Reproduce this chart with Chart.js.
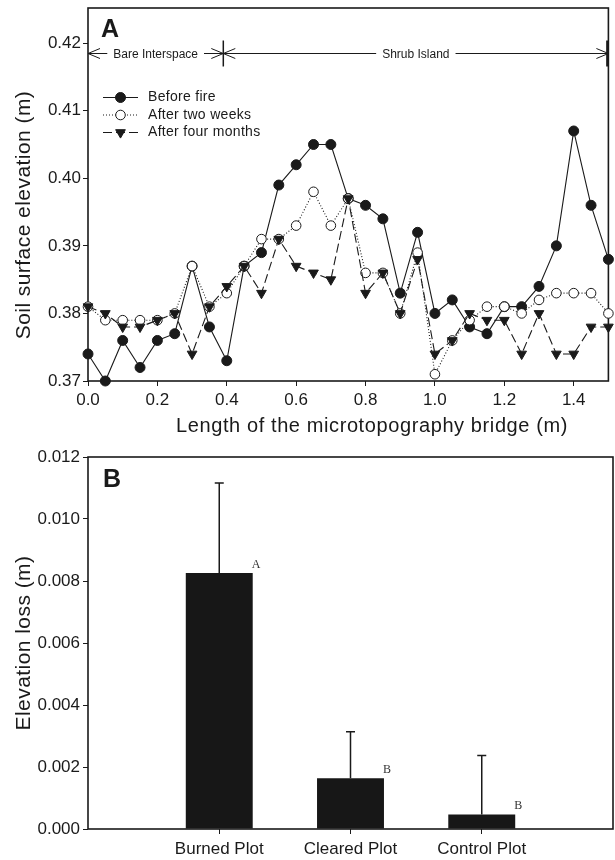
<!DOCTYPE html>
<html>
<head>
<meta charset="utf-8">
<title>Soil surface elevation / elevation loss</title>
<script src="https://cdn.jsdelivr.net/npm/chart.js@4.4.1/dist/chart.umd.min.js"></script>
<style>
  html,body{margin:0;padding:0;background:#fff;}
  #wrap{position:relative;width:615px;height:860px;}
  canvas{position:absolute;left:0;}
  #chartA{top:0;}
  #chartB{top:440px;}
</style>
</head>
<body>
<div id="wrap">
  <canvas id="chartA" width="615" height="440"></canvas>
  <canvas id="chartB" width="615" height="420"></canvas>
</div>
<script>
// ---- panel A data: elevation along the microtopography bridge ----
const positions = [0.00,0.05,0.10,0.15,0.20,0.25,0.30,0.35,0.40,0.45,0.50,0.55,0.60,0.65,0.70,0.75,
                   0.80,0.85,0.90,0.95,1.00,1.05,1.10,1.15,1.20,1.25,1.30,1.35,1.40,1.45,1.50];
const beforeFire = [0.374,0.370,0.376,0.372,0.376,0.377,0.387,0.378,0.373,0.387,0.389,0.399,0.402,0.405,0.405,0.397,
                    0.396,0.394,0.383,0.392,0.380,0.382,0.378,0.377,0.381,0.381,0.384,0.390,0.407,0.396,0.388];
const afterTwoWeeks = [0.381,0.379,0.379,0.379,0.379,0.380,0.387,0.381,0.383,0.387,0.391,0.391,0.393,0.398,0.393,0.397,
                       0.386,0.386,0.380,0.389,0.371,0.376,0.379,0.381,0.381,0.380,0.382,0.383,0.383,0.383,0.380];
const afterFourMonths = [0.381,0.380,0.378,0.378,0.379,0.380,0.374,0.381,0.384,0.387,0.383,0.391,0.387,0.386,0.385,0.397,
                         0.383,0.386,0.380,0.388,0.374,0.376,0.380,0.379,0.379,0.374,0.380,0.374,0.374,0.378,0.378];
const elevTicks = [0.37,0.38,0.39,0.40,0.41,0.42];
const lengthTicks = [0.0,0.2,0.4,0.6,0.8,1.0,1.2,1.4];

// zone markers drawn above the profile
const zoneLevel = 0.4186;
const zones = [
  {label:'Bare Interspace', from:0, to:0.39},
  {label:'Shrub Island', from:0.39, to:1.5}
];

// ---- panel B data: elevation loss per plot (empty slots at both ends) ----
const plotNames = ['', 'Burned Plot', 'Cleared Plot', 'Control Plot', ''];
const elevationLoss = [null, 0.00826, 0.00164, 0.00047, null];
const lossError = [null, 0.00290, 0.00150, 0.00190, null];
const groupLetters = ['', 'A', 'B', 'B', ''];
const lossTicks = [0.000,0.002,0.004,0.006,0.008,0.010,0.012];

const INK = '#1a1a1a';
const FONT = "'Liberation Sans', Arial, sans-serif";
Chart.defaults.font.family = FONT;
Chart.defaults.color = INK;

// fixes the scale thickness so the plot area lands where the figure has it
function fixAxis(size){
  return function(scale){
    if(scale.isHorizontal()) scale.height = size; else scale.width = size;
    scale.paddingTop = 0; scale.paddingBottom = 0; scale.paddingLeft = 0; scale.paddingRight = 0;
  };
}
function useTicks(list){
  return function(scale){ scale.ticks = list.map(v=>({value:v})); };
}

/* ========== shared plugins ========== */
const framePlugin = {
  id:'frame',
  beforeDatasetsDraw(chart){
    const {ctx, chartArea:a} = chart;
    ctx.save();
    ctx.strokeStyle = INK; ctx.lineWidth = 1.6;
    ctx.strokeRect(a.left, a.top, a.right-a.left, a.bottom-a.top);
    ctx.restore();
  }
};
function panelLabel(text, x, y){
  return {
    id:'panel'+text,
    afterDraw(chart){
      const ctx = chart.ctx;
      ctx.save();
      ctx.font = 'bold 25px ' + FONT; ctx.fillStyle = INK;
      ctx.textAlign = 'left'; ctx.textBaseline = 'alphabetic';
      ctx.fillText(text, x, y);
      ctx.restore();
    }
  };
}
// axis titles of the original sit a little off the plot centre, with loose letter spacing
function axisTitle(id, text, x, y, size, spacing, vertical){
  return {
    id:id,
    afterDraw(chart){
      const ctx = chart.ctx;
      ctx.save();
      ctx.font = size + 'px ' + FONT; ctx.fillStyle = INK;
      ctx.textAlign = 'center'; ctx.textBaseline = 'middle';
      ctx.letterSpacing = spacing + 'px';
      ctx.translate(x, y);
      if(vertical) ctx.rotate(-Math.PI/2);
      ctx.fillText(text, 0, 0);
      ctx.restore();
    }
  };
}

/* ========== panel A plugins ========== */
const zonePlugin = {
  id:'zones',
  afterDatasetsDraw(chart){
    const {ctx, scales:{x, y}} = chart;
    const yy = Math.round(y.getPixelForValue(zoneLevel)) + 0.5;
    ctx.save();
    ctx.strokeStyle = INK; ctx.fillStyle = INK; ctx.lineWidth = 1;
    ctx.font = '12px ' + FONT; ctx.textAlign = 'center'; ctx.textBaseline = 'middle';
    zones.forEach(z=>{
      const x0 = x.getPixelForValue(z.from), x1 = x.getPixelForValue(z.to), xm = (x0+x1)/2;
      const half = ctx.measureText(z.label).width/2 + 6;
      ctx.beginPath();
      ctx.moveTo(x0, yy); ctx.lineTo(xm-half, yy);
      ctx.moveTo(xm+half, yy); ctx.lineTo(x1, yy);
      ctx.moveTo(x0+12, yy-5); ctx.lineTo(x0, yy); ctx.lineTo(x0+12, yy+5);
      ctx.moveTo(x1-12, yy-5); ctx.lineTo(x1, yy); ctx.lineTo(x1-12, yy+5);
      ctx.stroke();
      ctx.fillText(z.label, xm, yy+1);
    });
    // boundary bars
    const bounds = [zones[0].to, zones[1].to];
    bounds.forEach((b,i)=>{
      const bx = x.getPixelForValue(b) - (i ? 1 : 0);
      ctx.lineWidth = i ? 2.5 : 1.5;
      ctx.beginPath(); ctx.moveTo(bx, yy-13); ctx.lineTo(bx, yy+13); ctx.stroke();
    });
    ctx.restore();
  }
};

const legendPlugin = {
  id:'profileLegend',
  afterDatasetsDraw(chart){
    const ctx = chart.ctx;
    const rows = [97, 114.5, 132];
    ctx.save();
    ctx.font = '14px ' + FONT; ctx.textAlign = 'left'; ctx.textBaseline = 'middle';
    ctx.letterSpacing = '0.3px';
    chart.data.datasets.forEach((ds,i)=>{
      const yy = rows[i] + 0.5;
      ctx.strokeStyle = INK; ctx.lineWidth = ds.borderWidth;
      ctx.setLineDash(ds.borderDash || []);
      ctx.beginPath(); ctx.moveTo(103, yy); ctx.lineTo(138, yy); ctx.stroke();
      ctx.setLineDash([]);
      ctx.fillStyle = ds.pointBackgroundColor; ctx.strokeStyle = ds.pointBorderColor; ctx.lineWidth = 1;
      Chart.helpers.drawPoint(ctx, {pointStyle: ds.pointStyle, rotation: ds.pointRotation || 0,
        radius: ds.pointRadius, borderWidth: 1}, 120.5, yy);
      ctx.fillStyle = INK;
      ctx.fillText(ds.label, 148, yy);
    });
    ctx.restore();
  }
};

function pts(series){ return positions.map((p,i)=>({x:p, y:series[i]})); }

new Chart(document.getElementById('chartA'), {
  type:'scatter',
  data:{
    datasets:[
      {label:'Before fire', data:pts(beforeFire), showLine:true, borderColor:INK, borderWidth:1.1,
       pointStyle:'circle', pointRadius:5, pointBackgroundColor:INK, pointBorderColor:INK, pointBorderWidth:1,
       order:3, clip:false},
      {label:'After two weeks', data:pts(afterTwoWeeks), showLine:true, borderColor:INK, borderWidth:1.1, borderDash:[1,2],
       pointStyle:'circle', pointRadius:4.8, pointBackgroundColor:'#fff', pointBorderColor:INK, pointBorderWidth:1,
       order:2, clip:false},
      {label:'After four months', data:pts(afterFourMonths), showLine:true, borderColor:INK, borderWidth:1.1, borderDash:[9,4],
       pointStyle:'triangle', pointRotation:180, pointRadius:5.6, pointBackgroundColor:INK, pointBorderColor:INK, pointBorderWidth:1,
       order:1, clip:false}
    ]
  },
  options:{
    responsive:false, animation:false, devicePixelRatio:1,
    layout:{padding:{top:8, right:2, left:0, bottom:0}},
    plugins:{legend:{display:false}, tooltip:{enabled:false}},
    scales:{
      x:{type:'linear', min:0, max:1.5,
         afterBuildTicks:useTicks(lengthTicks), afterFit:fixAxis(59),
         grid:{drawOnChartArea:false, tickLength:5, color:INK},
         border:{display:false},
         ticks:{padding:4, font:{size:17}, color:INK, callback:v=>Number(v).toFixed(1)},
         title:{display:false}},
      y:{type:'linear', min:0.37, max:0.4252,
         afterBuildTicks:useTicks(elevTicks), afterFit:fixAxis(88),
         grid:{drawOnChartArea:false, tickLength:5, color:INK},
         border:{display:false},
         ticks:{padding:2, font:{size:17}, color:INK, callback:v=>Number(v).toFixed(2)},
         title:{display:false}}
    }
  },
  plugins:[framePlugin, zonePlugin, legendPlugin, panelLabel('A', 101, 37),
           axisTitle('xTitleA', 'Length of the microtopography bridge (m)', 372, 426, 20, 0.6, false),
           axisTitle('yTitleA', 'Soil surface elevation (m)', 24, 215, 21, 0.45, true)]
});

/* ========== panel B ========== */
const errorPlugin = {
  id:'errorBars',
  afterDatasetsDraw(chart){
    const {ctx, scales:{y}} = chart;
    const meta = chart.getDatasetMeta(0);
    ctx.save();
    ctx.strokeStyle = INK; ctx.lineWidth = 1.5;
    elevationLoss.forEach((v,i)=>{
      if(v===null) return;
      const bar = meta.data[i];
      const top = y.getPixelForValue(v + lossError[i]);
      ctx.beginPath();
      ctx.moveTo(bar.x, bar.y); ctx.lineTo(bar.x, top);
      ctx.moveTo(bar.x-4.5, top); ctx.lineTo(bar.x+4.5, top);
      ctx.stroke();
      ctx.fillStyle = '#333';
      ctx.font = '12px "Liberation Serif", "Times New Roman", serif';
      ctx.textAlign = 'left'; ctx.textBaseline = 'alphabetic';
      ctx.fillText(groupLetters[i], bar.x + bar.width/2 - 1, bar.y - 5);
    });
    ctx.restore();
  }
};

new Chart(document.getElementById('chartB'), {
  type:'bar',
  data:{
    labels:plotNames,
    datasets:[{label:'Elevation loss', data:elevationLoss, backgroundColor:'#171717', borderWidth:0,
               barPercentage:0.51, categoryPercentage:1}]
  },
  options:{
    responsive:false, animation:false, devicePixelRatio:1,
    layout:{padding:{top:17, right:2, left:0, bottom:0}},
    plugins:{legend:{display:false}, tooltip:{enabled:false}},
    scales:{
      x:{offset:false, afterFit:fixAxis(31),
         grid:{drawOnChartArea:false, offset:false, tickLength:5,
               color:c=> (c.index===0 || c.index===plotNames.length-1) ? 'rgba(0,0,0,0)' : INK},
         border:{display:false},
         ticks:{padding:5, font:{size:17}, color:INK, autoSkip:false, maxRotation:0}},
      y:{min:0, max:0.012,
         afterBuildTicks:useTicks(lossTicks), afterFit:fixAxis(88),
         grid:{drawOnChartArea:false, tickLength:5, color:INK},
         border:{display:false},
         ticks:{padding:3, font:{size:17}, color:INK, callback:v=>Number(v).toFixed(3)},
         title:{display:false}}
    }
  },
  plugins:[framePlugin, errorPlugin, panelLabel('B', 103, 47),
           axisTitle('yTitleB', 'Elevation loss (m)', 24, 203, 21, 0.45, true)]
});
</script>
</body>
</html>
